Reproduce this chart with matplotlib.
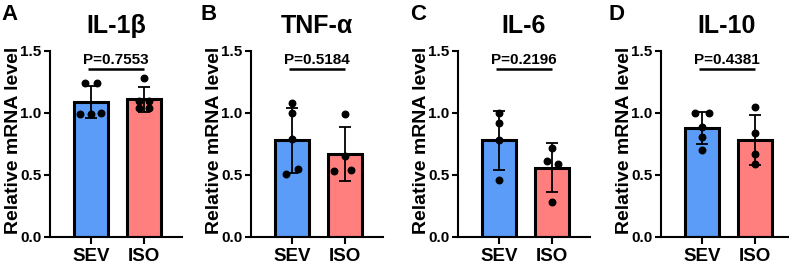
import matplotlib
matplotlib.rcParams['font.family'] = 'Liberation Sans'
matplotlib.rcParams['font.weight'] = 'bold'
import matplotlib.pyplot as plt
import numpy as np

# --------------------------------------
# Data
# --------------------------------------
groups = ["SEV", "ISO"]
titles = ["IL-1β", "TNF-α", "IL-6", "IL-10"]
letters = ["A", "B", "C", "D"]
p_values = ["P=0.7553", "P=0.5184", "P=0.2196", "P=0.4381"]

means_sev = [1.09, 0.78, 0.78, 0.88]
means_iso = [1.11, 0.67, 0.56, 0.78]
sd_sev = [0.13, 0.26, 0.24, 0.13]
sd_iso = [0.10, 0.22, 0.20, 0.20]

pts_sev = [
    [1.24, 1.24, 0.99, 0.99, 1.00],
    [1.08, 1.00, 0.79, 0.51, 0.55],
    [1.00, 0.92, 0.78, 0.46],
    [1.00, 1.00, 0.89, 0.81, 0.70],
]
pts_iso = [
    [1.28, 1.10, 1.10, 1.04, 1.04],
    [0.99, 0.65, 0.53, 0.54],
    [0.72, 0.61, 0.59, 0.28],
    [1.05, 0.84, 0.67, 0.59],
]

# horizontal scatter of the dots (layout only)
jit_sev = [
    [-0.11, 0.11, -0.2, 0.0, 0.2],
    [0.0, 0.0, 0.0, -0.11, 0.11],
    [0.0, 0.0, 0.0, 0.0],
    [-0.13, 0.13, 0.0, 0.0, 0.0],
]
jit_iso = [
    [0.0, -0.1, 0.1, -0.1, 0.1],
    [0.0, 0.0, -0.2, 0.11],
    [0.0, -0.1, 0.11, 0.0],
    [0.0, 0.0, 0.0, 0.0],
]

colors = ["#5A9CF8", "#FF7F7F"]

# --------------------------------------
# Figure layout in pixels
# --------------------------------------
W, H = 789, 266
fig = plt.figure(figsize=(W / 100, H / 100), dpi=100)

spine_x = [50, 251, 458, 661]
ax_w = 132
ax_top, ax_bot = 51, 237
letter_x = [1, 201, 410, 608]

for i in range(4):
    ax = fig.add_axes([spine_x[i] / W, 1 - ax_bot / H, ax_w / W, (ax_bot - ax_top) / H])

    x = np.arange(2)
    ax.bar(x, [means_sev[i], means_iso[i]], width=0.64, color=colors,
           edgecolor="black", linewidth=2.2, zorder=1)
    ax.errorbar(x, [means_sev[i], means_iso[i]], yerr=[sd_sev[i], sd_iso[i]],
                fmt="none", ecolor="black", elinewidth=1.3, capsize=4.3,
                capthick=1.3, zorder=2)

    ax.scatter(0 + np.array(jit_sev[i]), pts_sev[i], s=22, color="black",
               zorder=3, clip_on=False)
    ax.scatter(1 + np.array(jit_iso[i]), pts_iso[i], s=22, color="black",
               zorder=3, clip_on=False)

    # p-value bracket
    ax.plot([-0.05, 1.0], [1.355, 1.355], color="black", lw=1.8,
            solid_capstyle="butt", clip_on=False)
    ax.text(0.48, 1.375, p_values[i], ha="center", va="bottom",
            fontsize=11, fontweight="bold")

    ax.set_xlim(-0.77, 1.72)
    ax.set_ylim(0, 1.5)
    ax.set_yticks([0.0, 0.5, 1.0, 1.5])
    ax.set_yticklabels(["0.0", "0.5", "1.0", "1.5"])
    ax.set_xticks(x)
    ax.set_xticklabels(groups, fontsize=13.5, fontweight="bold")
    ax.tick_params(axis="y", labelsize=11, width=1.5, length=4, pad=2)
    ax.tick_params(axis="x", width=1.5, length=5, pad=3)

    ax.set_ylabel("Relative mRNA level", fontsize=14, fontweight="bold")
    ax.yaxis.set_label_coords(-28 / ax_w, 0.52)

    ax.spines["top"].set_visible(False)
    ax.spines["right"].set_visible(False)
    ax.spines["left"].set_linewidth(1.5)
    ax.spines["bottom"].set_linewidth(1.5)

    # title and panel letter
    fig.text((spine_x[i] + ax_w / 2) / W, 1 - 33 / H, titles[i],
             ha="center", va="baseline", fontsize=18, fontweight="bold")
    fig.text(letter_x[i] / W, 1 - 20 / H, letters[i],
             ha="left", va="baseline", fontsize=16, fontweight="bold")

plt.savefig("out.png", dpi=100)
plt.close()
